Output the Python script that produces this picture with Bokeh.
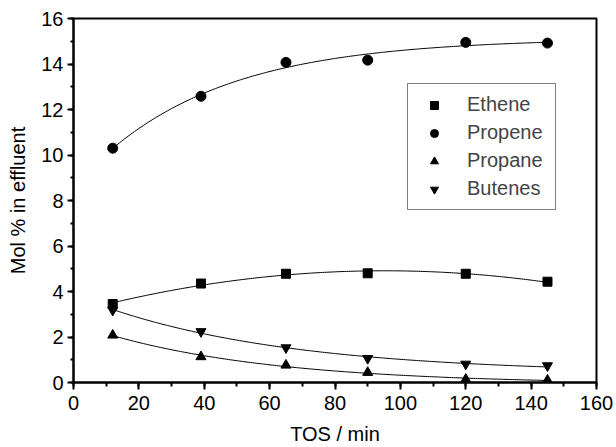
import numpy as np
from bokeh.plotting import figure
from bokeh.models import Range1d, SingleIntervalTicker, Legend, LegendItem
from bokeh.embed import file_html
from bokeh.resources import INLINE

# ---- data ----
tos = [12, 39, 65, 90, 120, 145]
ethene = [3.45, 4.35, 4.78, 4.80, 4.78, 4.43]
propene = [10.3, 12.58, 14.07, 14.17, 14.95, 14.92]
propane = [2.08, 1.13, 0.76, 0.44, 0.14, 0.10]
butenes = [3.18, 2.24, 1.53, 1.06, 0.81, 0.74]
series_names = ["Ethene", "Propene", "Propane", "Butenes"]

FONT = "Liberation Sans"


def exp_fit(x, y):
    x = np.asarray(x, float)
    y = np.asarray(y, float)
    best = None
    for c in np.linspace(5, 400, 800):
        A = np.column_stack([np.ones_like(x), np.exp(-x / c)])
        coef, *_ = np.linalg.lstsq(A, y, rcond=None)
        r = np.sum((A @ coef - y) ** 2)
        if best is None or r < best[0]:
            best = (r, coef, c)
    _, coef, c = best
    return lambda xx: coef[0] + coef[1] * np.exp(-xx / c)


def poly_fit(x, y, deg):
    p = np.polyfit(x, y, deg)
    return lambda xx: np.polyval(p, xx)


xs = np.linspace(min(tos), max(tos), 200)
fits = {
    "Ethene": poly_fit(tos, ethene, 2)(xs),
    "Propene": exp_fit(tos, propene)(xs),
    "Propane": exp_fit(tos, propane)(xs),
    "Butenes": exp_fit(tos, butenes)(xs),
}

p = figure(width=616, height=447, output_backend="svg", toolbar_location=None,
           x_range=Range1d(0, 160), y_range=Range1d(0, 16),
           min_border_left=73, min_border_right=20, min_border_top=18,
           min_border_bottom=64)
p.xgrid.visible = False
p.ygrid.visible = False
p.outline_line_color = "black"
p.outline_line_width = 2
p.background_fill_color = "white"
p.border_fill_color = "white"

for name in series_names:
    p.line(xs, fits[name], line_color="black", line_width=1)

r_eth = p.scatter(tos, ethene, marker="square", size=9, color="black")
r_pro = p.scatter(tos, propene, marker="circle", size=10, color="black")
r_pra = p.scatter(tos, propane, marker="triangle", size=10, color="black")
r_but = p.scatter(tos, butenes, marker="inverted_triangle", size=10, color="black")

p.xaxis.ticker = SingleIntervalTicker(interval=20, num_minor_ticks=2)
p.yaxis.ticker = SingleIntervalTicker(interval=2, num_minor_ticks=2)

for ax in (p.xaxis[0], p.yaxis[0]):
    ax.axis_line_width = 2
    ax.major_tick_line_width = 2
    ax.minor_tick_line_width = 2
    ax.major_tick_in = 0
    ax.minor_tick_in = 0
    ax.major_label_text_font = FONT
    ax.major_label_text_font_size = "20px"
    ax.major_label_text_color = "black"
    ax.major_label_text_line_height = 1.0
    ax.axis_label_text_font = FONT
    ax.axis_label_text_font_size = "20px"
    ax.axis_label_text_font_style = "normal"
    ax.axis_label_text_color = "black"
    ax.axis_label_text_line_height = 1.0

p.xaxis.major_tick_out = 7
p.xaxis.minor_tick_out = 4
p.yaxis.major_tick_out = 6
p.yaxis.minor_tick_out = 3
p.xaxis.axis_label = "TOS / min"
p.yaxis.axis_label = "Mol % in effluent"
p.xaxis.major_label_standoff = 6
p.yaxis.major_label_standoff = 4
p.xaxis.axis_label_standoff = 10
p.yaxis.axis_label_standoff = 9

legend = Legend(items=[
    LegendItem(label=series_names[0], renderers=[r_eth]),
    LegendItem(label=series_names[1], renderers=[r_pro]),
    LegendItem(label=series_names[2], renderers=[r_pra]),
    LegendItem(label=series_names[3], renderers=[r_but]),
], location=(334, 172))
legend.label_text_font = FONT
legend.label_text_font_size = "20px"
legend.border_line_color = "black"
legend.border_line_width = 1
legend.background_fill_alpha = 1
legend.padding = 9
legend.margin = 0
legend.spacing = 5
legend.glyph_height = 20
legend.glyph_width = 34
legend.label_height = 20
legend.label_width = 79
legend.label_standoff = 16
p.add_layout(legend, "center")

open("out.html", "w").write(file_html(p, INLINE))
